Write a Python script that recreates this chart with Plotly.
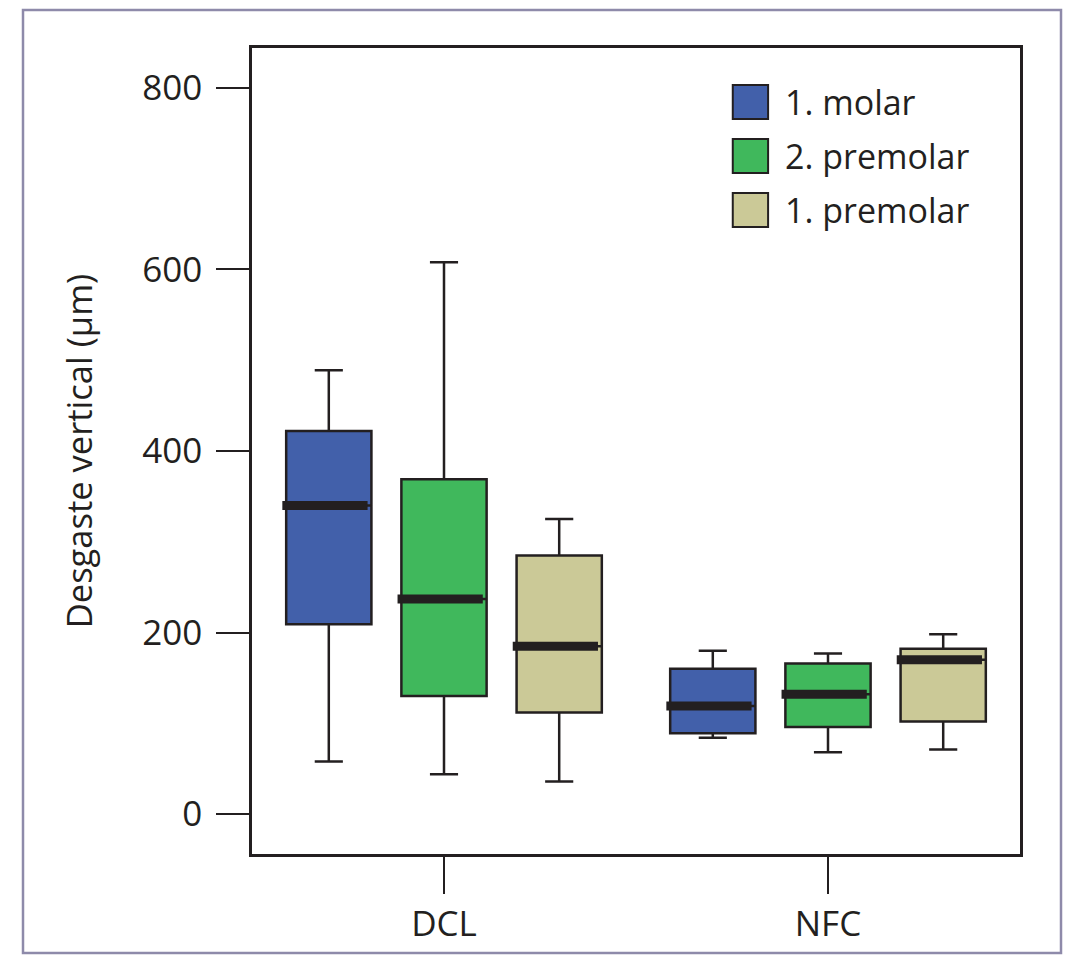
import plotly.graph_objects as go

categories = ["DCL", "NFC"]
series_names = ["1. molar", "2. premolar", "1. premolar"]
colors = ["#4260aa", "#40b85c", "#cbc997"]

# per series: values for [DCL, NFC]
lower = [[58, 84], [44, 68], [36, 71]]
q1 = [[209, 89], [130, 96], [112, 102]]
median = [[340, 119], [237, 132], [185, 170]]
q3 = [[422, 160], [369, 166], [285, 182]]
upper = [[489, 180], [608, 177], [325, 198]]

y_ticks = [0, 200, 400, 600, 800]

offsets = [-0.3, 0.0, 0.3]
box_w = 0.222
ink = "#231f20"
font_family = "Open Sans"

fig = go.Figure()
for i, name in enumerate(series_names):
    xs = [c + offsets[i] for c in range(len(categories))]
    fig.add_trace(go.Box(
        name=name, x=xs,
        q1=q1[i], median=median[i], q3=q3[i],
        lowerfence=lower[i], upperfence=upper[i],
        width=box_w, whiskerwidth=0.33,
        fillcolor=colors[i], line=dict(color=ink, width=2.5),
        showlegend=False, hoverinfo="skip",
    ))
for i, name in enumerate(series_names):
    mx, my = [], []
    for c in range(len(categories)):
        xc = c + offsets[i] - 0.008
        mx += [xc - box_w / 2 - 0.002, xc + box_w / 2 - 0.002, None]
        my += [median[i][c], median[i][c], None]
    fig.add_trace(go.Scatter(x=mx, y=my, mode="lines",
                             line=dict(color=ink, width=9),
                             showlegend=False, hoverinfo="skip"))

# manual legend
shapes = []
annotations = []
for i, name in enumerate(series_names):
    top = 0.954 - i * 0.067
    shapes.append(dict(type="rect", xref="paper", yref="paper",
                       x0=0.626, x1=0.672, y0=top - 0.042, y1=top,
                       fillcolor=colors[i], line=dict(color=ink, width=2)))
    annotations.append(dict(xref="paper", yref="paper", x=0.692, y=top - 0.021,
                            text=name, showarrow=False, xanchor="left", yanchor="middle",
                            font=dict(family=font_family, size=34, color=ink)))
# outer frame
shapes.append(dict(type="rect", xref="paper", yref="paper",
                   x0=(23 - 252) / 768, x1=(1061 - 252) / 768,
                   y0=(854 - 953) / 806, y1=(854 - 10) / 806,
                   line=dict(color="#8e8aaa", width=2.5), fillcolor="rgba(0,0,0,0)"))

fig.update_layout(
    width=1075, height=967,
    margin=dict(l=244, r=63, t=40, b=121),
    paper_bgcolor="white", plot_bgcolor="white",
    font=dict(family=font_family, color=ink, size=34),
    shapes=shapes, annotations=annotations,
    showlegend=False,
)
fig.update_xaxes(
    range=[-0.5, 1.5], tickmode="array", tickvals=list(range(len(categories))),
    ticktext=categories, ticks="outside", ticklen=37, tickwidth=2, tickcolor=ink,
    showline=True, linecolor=ink, linewidth=2.5, mirror=True,
    showgrid=False, zeroline=False, ticklabelstandoff=0,
    tickfont=dict(size=35),
)
fig.update_yaxes(
    range=[-44, 844], tickmode="array", tickvals=y_ticks,
    ticks="outside", ticklen=33, tickwidth=2, tickcolor=ink,
    showline=True, linecolor=ink, linewidth=2.5, mirror=True,
    showgrid=False, zeroline=False, ticklabelstandoff=7,
    tickfont=dict(size=35),
    title=dict(text="Desgaste vertical (μm)", standoff=40, font=dict(size=34.5)),
)

fig.write_html("out.html")
